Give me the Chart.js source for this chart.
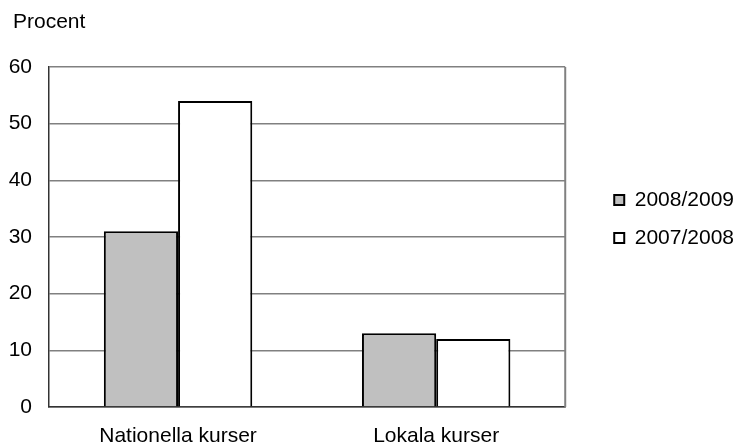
<!DOCTYPE html>
<html>
<head>
<meta charset="utf-8">
<script src="https://cdn.jsdelivr.net/npm/chart.js@4"></script>
<style>
  html, body { margin: 0; padding: 0; background: #fff; }
  #wrap { width: 736px; height: 445px; }
</style>
</head>
<body>
<div id="wrap"><canvas id="myChart" width="736" height="445"></canvas></div>
<script>
const categories = ['Nationella kurser', 'Lokala kurser'];
const seriesNames = ['2008/2009', '2007/2008'];
const values0809 = [31, 13];
const values0708 = [54, 12];
const yMin = 0, yMax = 60, yStep = 10;
const unitLabel = 'Procent';

const FONT = '"Liberation Sans", Arial, sans-serif';

// unit label top-left, right border of the plot, legend nudge
const plotFrame = {
  id: 'plotFrame',
  afterLayout(chart) {
    const lg = chart.legend;
    lg.left += 32; lg.right += 32;
    lg.top -= 37; lg.bottom -= 37;
  },
  beforeDatasetsDraw(chart) {
    const {ctx, chartArea} = chart;
    ctx.save();
    ctx.strokeStyle = '#808080';
    ctx.lineWidth = 2;
    ctx.beginPath();
    ctx.moveTo(chartArea.right, chartArea.top);
    ctx.lineTo(chartArea.right, chartArea.bottom);
    ctx.stroke();
    ctx.restore();
  },
  afterDraw(chart) {
    const ctx = chart.ctx;
    ctx.save();
    ctx.fillStyle = '#000';
    ctx.font = '21px ' + FONT;
    ctx.textAlign = 'left';
    ctx.textBaseline = 'middle';
    ctx.fillText(unitLabel, 13, 22);
    ctx.restore();
  }
};

var ctx = document.getElementById('myChart');
var chart = new Chart(ctx, {
  type: 'bar',
  data: {
    labels: categories,
    datasets: [
      {
        label: seriesNames[0],
        data: values0809,
        backgroundColor: '#C0C0C0',
        borderColor: '#000',
        borderWidth: 2,
        barPercentage: 1,
        categoryPercentage: 0.575
      },
      {
        label: seriesNames[1],
        data: values0708,
        backgroundColor: '#FFFFFF',
        borderColor: '#000',
        borderWidth: 2,
        barPercentage: 1,
        categoryPercentage: 0.575
      }
    ]
  },
  options: {
    responsive: false,
    animation: false,
    layout: { padding: { left: 0, top: 67, right: 24, bottom: 0 } },
    plugins: {
      title: { display: false },
      legend: {
        display: true,
        position: 'right',
        labels: {
          color: '#000',
          font: { family: FONT, size: 21 },
          boxWidth: 10,
          boxHeight: 10,
          padding: 17
        }
      },
      tooltip: { enabled: false }
    },
    scales: {
      x: {
        grid: { display: false, drawTicks: false },
        border: { display: true, color: '#333', width: 1.5 },
        ticks: { color: '#000', font: { family: FONT, size: 21 }, padding: 16.5, maxRotation: 0 },
        afterFit(scale) { scale.height = 38; }
      },
      y: {
        min: yMin,
        max: yMax,
        grid: { color: '#808080', lineWidth: 1.5, drawTicks: false },
        border: { display: true, color: '#333', width: 1.5 },
        ticks: { stepSize: yStep, color: '#000', font: { family: FONT, size: 21 }, padding: 17 },
        afterFit(scale) { scale.width = 49; }
      }
    }
  },
  plugins: [plotFrame]
});
</script>
</body>
</html>
